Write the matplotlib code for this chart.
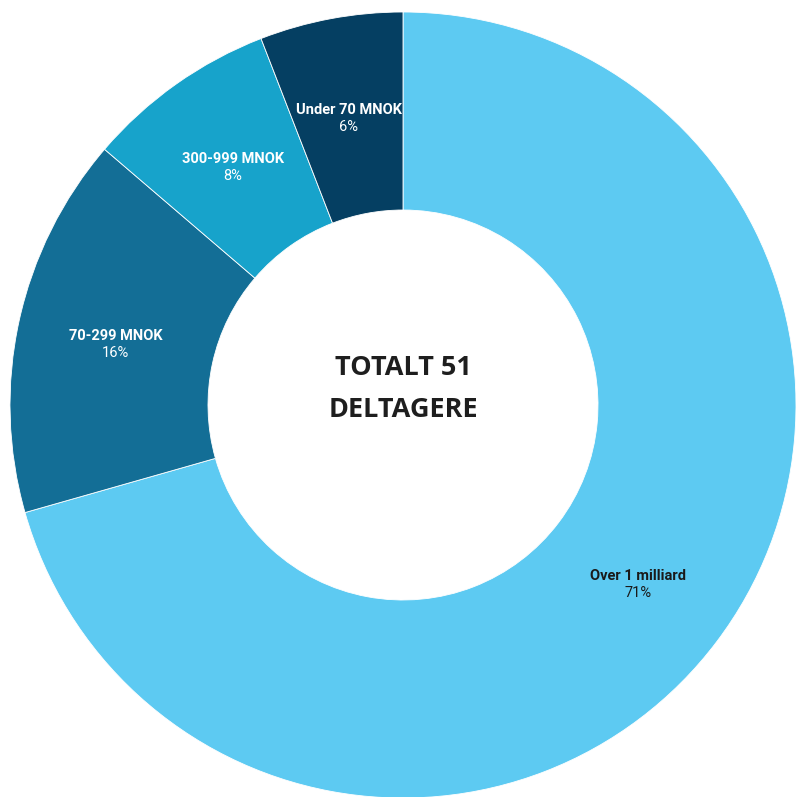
import numpy as np
import matplotlib.pyplot as plt

categories = ["Over 1 milliard", "70-299 MNOK", "300-999 MNOK", "Under 70 MNOK"]
counts = [36, 8, 4, 3]
colors = ["#5DCAF2", "#136E96", "#17A3CB", "#053F62"]
text_colors = ["#1a1a1a", "white", "white", "white"]
center_lines = ["TOTALT 51", "DELTAGERE"]

W, H = 798, 797
fig = plt.figure(figsize=(W / 100, H / 100), dpi=100)
ax = fig.add_axes([0, 0, 1, 1])

cx, cy = 403, H - 405
r_out, r_in = 393, 195

total = sum(counts)
ax.pie(counts, colors=colors, startangle=90, counterclock=False,
       center=(cx, cy), radius=r_out, frame=True,
       wedgeprops=dict(width=r_out - r_in, edgecolor="white", linewidth=0.6))
ax.set_xlim(0, W)
ax.set_ylim(0, H)
ax.set_aspect("equal")
ax.axis("off")

# labels at the middle of the ring
r_mid = (r_out + r_in) / 2
start = 90.0
for cat, n, tc in zip(categories, counts, text_colors):
    span = 360.0 * n / total
    mid = np.deg2rad(start - span / 2)
    start -= span
    x = cx + r_mid * np.cos(mid)
    y = cy + r_mid * np.sin(mid)
    pct = f"{round(100 * n / total)}%"
    ax.text(x, y + 6.5, cat, ha="center", va="center", fontsize=10.5,
            fontweight="bold", family="Roboto", color=tc)
    ax.text(x, y - 10.5, pct, ha="center", va="center", fontsize=10.5,
            family="Roboto", color=tc)

ax.text(cx, H - 368, center_lines[0], ha="center", va="center", fontsize=19.5,
        fontweight="bold", family="Open Sans", color="#1e1e1e")
ax.text(cx, H - 410, center_lines[1], ha="center", va="center", fontsize=19.5,
        fontweight="bold", family="Open Sans", color="#1e1e1e")

fig.savefig("out.png", dpi=100)
